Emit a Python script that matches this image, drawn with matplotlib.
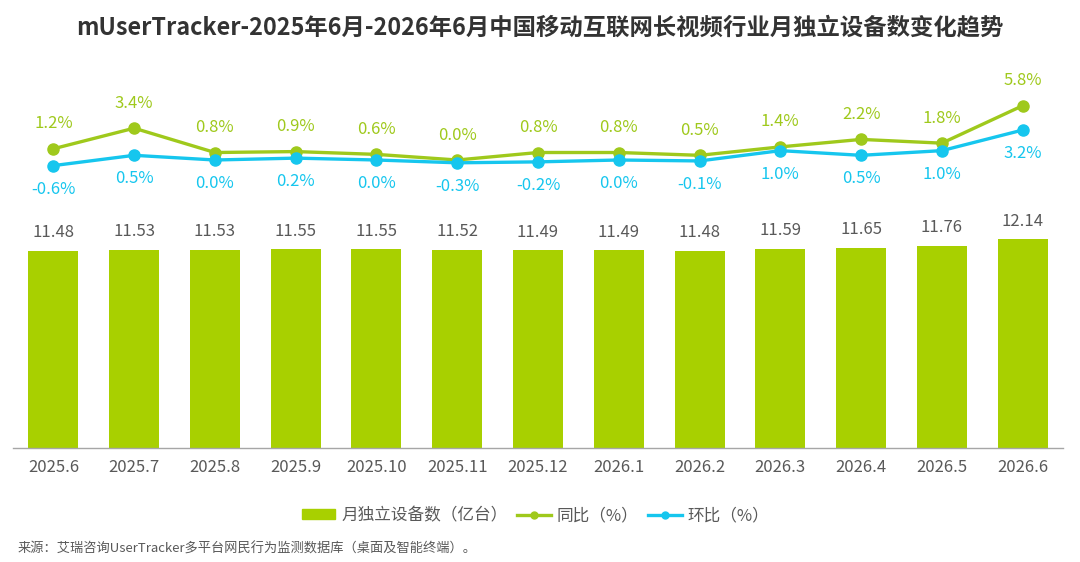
import matplotlib
matplotlib.use("Agg")
import matplotlib.pyplot as plt
from matplotlib.lines import Line2D
from matplotlib.patches import Patch

plt.rcParams['font.family'] = ['Noto Sans CJK SC', 'DejaVu Sans']

months = ["2025.6", "2025.7", "2025.8", "2025.9", "2025.10", "2025.11", "2025.12",
          "2026.1", "2026.2", "2026.3", "2026.4", "2026.5", "2026.6"]
devices = [11.48, 11.53, 11.53, 11.55, 11.55, 11.52, 11.49, 11.49, 11.48, 11.59, 11.65, 11.76, 12.14]
yoy = [1.2, 3.4, 0.8, 0.9, 0.6, 0.0, 0.8, 0.8, 0.5, 1.4, 2.2, 1.8, 5.8]
mom = [-0.6, 0.5, 0.0, 0.2, 0.0, -0.3, -0.2, 0.0, -0.1, 1.0, 0.5, 1.0, 3.2]

title = "mUserTracker-2025年6月-2026年6月中国移动互联网长视频行业月独立设备数变化趋势"
source = "来源：艾瑞咨询UserTracker多平台网民行为监测数据库（桌面及智能终端）。"
legend_labels = ["月独立设备数（亿台）", "同比（%）", "环比（%）"]

BAR = "#A8D000"
GREEN = "#9FC91C"
BLUE = "#16C6EE"
GRAY = "#595959"

W, H = 1080, 562
fig = plt.figure(figsize=(W / 100, H / 100), dpi=100)
left, right, top, bottom = 13, 1063, 60, 447.7
ax = fig.add_axes([left / W, (H - bottom) / H, (right - left) / W, (bottom - top) / H])
x = list(range(len(months)))
ax.bar(x, devices, width=0.62, color=BAR, zorder=2)
ax.set_xlim(-0.5, len(months) - 0.5)
ax.set_ylim(0, (bottom - top) / 17.17)
for xi, v in zip(x, devices):
    ax.annotate(f"{v:.2f}", (xi, v), xytext=(0, 7), textcoords="offset points",
                ha="center", va="bottom", fontsize=12, color=GRAY)
ax.set_yticks([])
for s in ["top", "left", "right"]:
    ax.spines[s].set_visible(False)
ax.spines["bottom"].set_color("#A6A6A6")
ax.spines["bottom"].set_linewidth(1.0)
ax.set_xticks(x)
ax.set_xticklabels(months, fontsize=12, color=GRAY)
ax.tick_params(axis="x", length=0, pad=8)

ax2 = ax.twinx()
ppx = 9.36
zero = 160
ax2.set_ylim(-(bottom - zero) / ppx, (zero - top) / ppx)
ax2.plot(x, yoy, color=GREEN, lw=2.4, marker="o", ms=8, zorder=3)
ax2.plot(x, mom, color=BLUE, lw=2.4, marker="o", ms=8, zorder=3)
for xi, v in zip(x, yoy):
    ax2.annotate(f"{v:.1f}%", (xi, v), xytext=(0, 18), textcoords="offset points",
                 ha="center", va="center", fontsize=12, color=GREEN)
for xi, v in zip(x, mom):
    ax2.annotate(f"{v:.1f}%", (xi, v), xytext=(0, -17), textcoords="offset points",
                 ha="center", va="center", fontsize=12, color=BLUE)
ax2.set_yticks([])
for s in ["top", "left", "right", "bottom"]:
    ax2.spines[s].set_visible(False)

fig.text(0.5, 1 - 27 / H, title, ha="center", va="center", fontsize=16.8,
         fontweight="bold", color="#333333")

handles = [Patch(color=BAR),
           Line2D([0], [0], color=GREEN, lw=2.4, marker="o", ms=5),
           Line2D([0], [0], color=BLUE, lw=2.4, marker="o", ms=5)]
fig.legend(handles, legend_labels, loc="center", bbox_to_anchor=(0.496, 1 - 515.5 / H),
           ncol=3, frameon=False, fontsize=12, handlelength=2.0, handleheight=0.55,
           handletextpad=0.35, columnspacing=0.6, labelcolor=GRAY)

fig.text(18 / W, 1 - 549 / H, source, ha="left", va="center", fontsize=9.5, color=GRAY)

fig.savefig("out.png", dpi=100, facecolor="white")
